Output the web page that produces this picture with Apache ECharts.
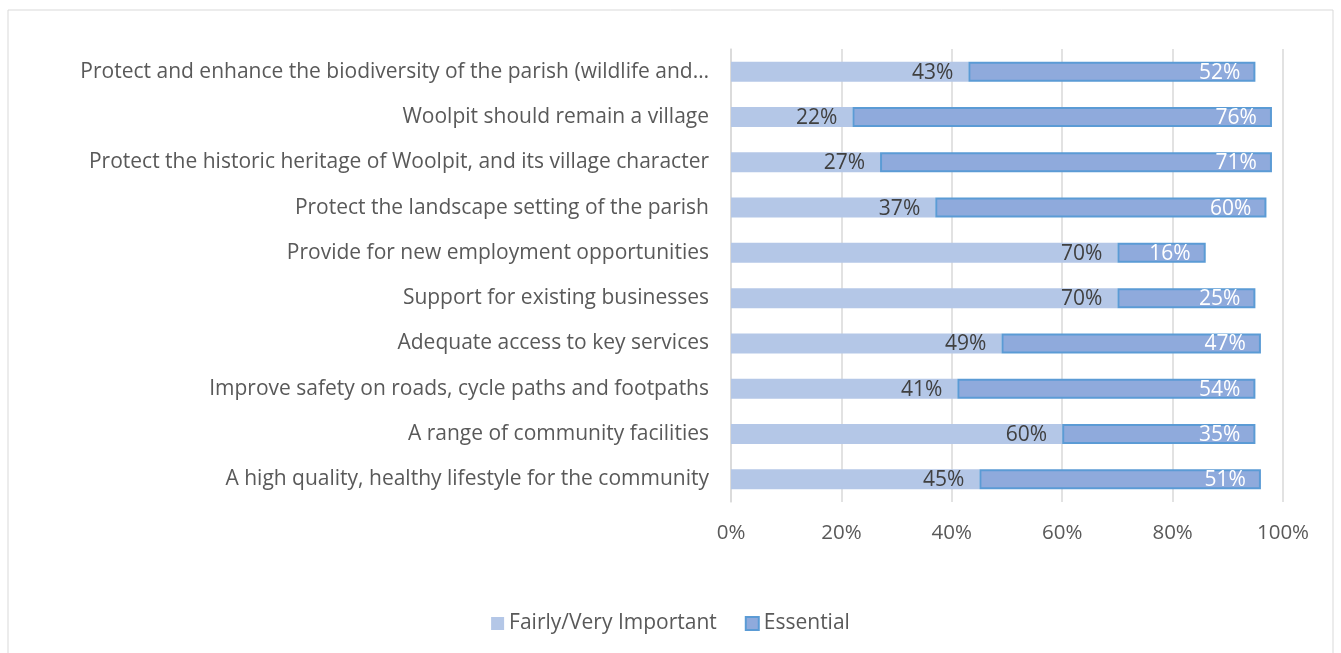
<!DOCTYPE html>
<html>
<head>
<meta charset="utf-8">
<script src="https://cdn.jsdelivr.net/npm/echarts@6/dist/echarts.min.js"></script>
<style>
  html, body { margin: 0; padding: 0; background: #fff; }
  #main { width: 1341px; height: 653px; }
</style>
</head>
<body>
<div id="main"></div>
<script>
var categories = [
  'Protect and enhance the biodiversity of the parish (wildlife and…',
  'Woolpit should remain a village',
  'Protect the historic heritage of Woolpit, and its village character',
  'Protect the landscape setting of the parish',
  'Provide for new employment opportunities',
  'Support for existing businesses',
  'Adequate access to key services',
  'Improve safety on roads, cycle paths and footpaths',
  'A range of community facilities',
  'A high quality, healthy lifestyle for the community'
];
var fairlyImportant = [43, 22, 27, 37, 70, 70, 49, 41, 60, 45];
var essential = [52, 76, 71, 60, 16, 25, 47, 54, 35, 51];
var xTicks = [0, 20, 40, 60, 80, 100];

var chart = echarts.init(document.getElementById('main'));
var font = '"Open Sans", sans-serif';

var option = {
  animation: false,
  textStyle: { fontFamily: font },
  graphic: [{
    type: 'rect',
    shape: { x: 8, y: 10, width: 1325, height: 660 },
    style: { fill: 'none', stroke: '#d9d9d9', lineWidth: 1 }
  }],
  grid: { left: 731, right: 58, top: 49, bottom: 151, containLabel: false },
  legend: {
    bottom: 14,
    left: 'center',
    itemWidth: 13,
    itemHeight: 13,
    itemGap: 28,
    icon: 'rect',
    textStyle: { fontSize: 21, color: '#595959', fontFamily: font },
    data: ['Fairly/Very Important', 'Essential']
  },
  xAxis: {
    type: 'value',
    min: xTicks[0],
    max: xTicks[xTicks.length - 1],
    interval: 20,
    axisLabel: { formatter: '{value}%', fontSize: 20.5, color: '#595959', margin: 21 },
    axisLine: { show: false },
    axisTick: { show: false },
    splitLine: { lineStyle: { color: '#d9d9d9', width: 1.5 } }
  },
  yAxis: {
    type: 'category',
    inverse: true,
    data: categories,
    axisLine: { show: true, lineStyle: { color: '#d9d9d9', width: 1.5 } },
    axisTick: { show: false },
    axisLabel: { fontSize: 21, color: '#595959', margin: 22 }
  },
  series: [{
    name: 'Fairly/Very Important',
    type: 'bar',
    stack: 'total',
    barWidth: 20,
    data: fairlyImportant,
    itemStyle: { color: '#b4c7e7' },
    label: {
      show: true, position: 'insideRight', formatter: '{c}%',
      fontSize: 21, color: '#404040', offset: [-10, 1], distance: 5
    }
  }, {
    name: 'Essential',
    type: 'bar',
    stack: 'total',
    barWidth: 20,
    data: essential,
    itemStyle: { color: '#8faadc', borderColor: '#5b9bd5', borderWidth: 2 },
    label: {
      show: true, position: 'insideRight', formatter: '{c}%',
      fontSize: 21, color: '#ffffff', offset: [-10, 1], distance: 5
    }
  }]
};
chart.setOption(option);
</script>
</body>
</html>
